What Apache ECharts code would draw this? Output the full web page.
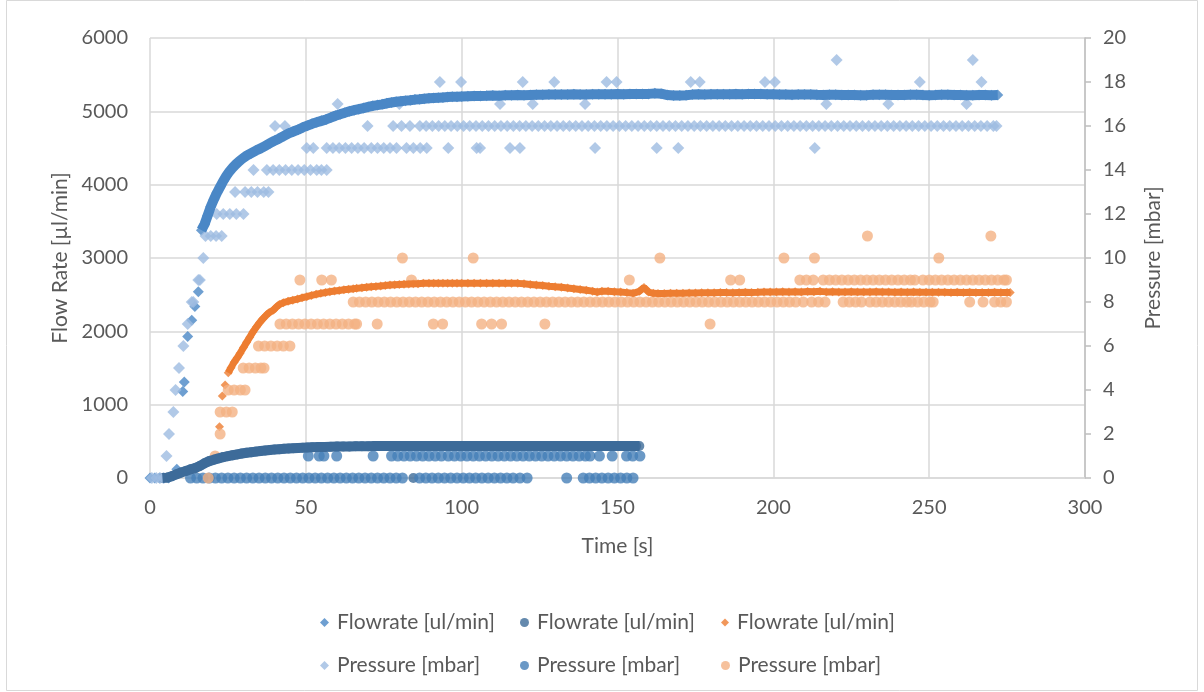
<!DOCTYPE html>
<html>
<head>
<meta charset="utf-8">
<script src="https://cdn.jsdelivr.net/npm/echarts@6/dist/echarts.min.js"></script>
<style>
html,body{margin:0;padding:0;background:#fff;}
#chart{width:1204px;height:692px;}
</style>
</head>
<body>
<div id="chart"></div>
<script>
// ---- axis ticks ----
const xTicks = [0, 50, 100, 150, 200, 250, 300];
const flowTicks = [0, 1000, 2000, 3000, 4000, 5000, 6000];
const pressureTicks = [0, 2, 4, 6, 8, 10, 12, 14, 16, 18, 20];

// ---- legend labels ----
const seriesLabels = {
  fa: 'Flowrate [ul/min]', fb: 'Flowrate [ul/min]', fc: 'Flowrate [ul/min]',
  pa: 'Pressure [mbar]', pb: 'Pressure [mbar]', pc: 'Pressure [mbar]'
};

// ---- Flowrate A [t (s), flow (ul/min)] ----
const flowA = [
[0,0],[1.5,0],[3,0],[4.5,0],[6,0],[7.5,30],[8.6,120],[10.5,1180],[11,1310],[12.1,1930],[13.4,2150],[14.4,2340],[15.5,2540],
[16.5,3380],[17.5,3460],[18.5,3580],[19.5,3700],[20.5,3800],[21.5,3890],[22.5,3970],[23.5,4050],[24.5,4120],[25.5,4180],
[26.5,4230],[27.5,4275],[28.5,4315],[29.5,4350],[31,4395],[32.5,4430],[34,4465],[35.5,4495],[37,4530],[38.5,4565],[40,4600],
[41.5,4630],[43,4665],[44.5,4700],[46,4725],[47.5,4750],[49,4780],[50.5,4805],[52,4830],[53.5,4850],[55,4870],[56.5,4890],
[58,4915],[59.5,4940],[61,4960],[62.5,4980],[64,5000],[65.5,5015],[67,5030],[68.5,5045],[70,5060],[71.5,5075],[73,5085],
[74.5,5095],[76,5110],[77.5,5120],[79,5130],[80.5,5138],[82,5146],[83.5,5152],[85,5160],[86.5,5165],[88,5172],[89.5,5177],
[91,5182],[92.5,5186],[94,5190],[95.5,5194],[97,5198],[98.5,5200],[100,5203],[102,5206],[104,5208],[106,5210],[108,5212],
[110,5215],[112,5214],[114,5218],[116,5220],[118,5222],[120,5220],[122,5224],[124,5226],[126,5225],[128,5228],[130,5230],
[132,5228],[134,5230],[136,5232],[138,5230],[140,5231],[142,5233],[144,5232],[146,5234],[148,5233],[150,5235],[152,5234],
[154,5236],[156,5235],[158,5237],[160,5238],[162,5245],[164,5240],[166,5222],[168,5215],[170,5215],[172,5220],[174,5228],
[176,5232],[178,5230],[180,5233],[182,5232],[184,5234],[186,5233],[188,5235],[190,5234],[192,5236],[194,5235],[196,5236],
[198,5234],[200,5232],[202,5230],[204,5228],[206,5226],[208,5228],[210,5230],[212,5229],[214,5226],[216,5224],[218,5226],
[220,5225],[222,5223],[224,5224],[226,5222],[228,5220],[230,5221],[232,5225],[234,5227],[236,5226],[238,5224],[240,5222],
[242,5224],[244,5226],[246,5225],[248,5222],[250,5220],[252,5222],[254,5225],[256,5227],[258,5224],[260,5222],[262,5220],
[264,5221],[266,5223],[268,5222],[270,5220],[272,5222]
];

// ---- Flowrate B ----
const flowB = [
[4,0],[5.5,5],[7,25],[8.5,50],[10,75],[11.5,95],[13,118],[14.5,135],[16,165],[17.5,200],[19,230],[20.5,250],[22,268],
[23.5,285],[25,298],[26.5,310],[28,322],[29.5,334],[31,344],[32.5,352],[34,360],[35.5,368],[37,375],[38.5,382],[40,388],
[41.5,393],[43,398],[44.5,402],[46,406],[47.5,410],[49,413],[50.5,416],[52,419],[54,422],[56,424],[58,426],[60,428],
[62,430],[64,431],[66,432],[68,433],[70,434],[72,435],[74,436],[76,436],[78,437],[80,437],[82,438],[84,437],[84.5,0],
[86,438],[88,438],[90,437],[92,438],[94,438],[96,437],[98,438],[100,437],[102,438],[104,437],[106,436],[108,437],[110,436],
[112,437],[114,436],[116,437],[118,436],[120,436],[122,435],[124,436],[126,435],[128,436],[130,435],[132,436],[134,435],
[136,436],[138,435],[140,436],[142,435],[144,436],[146,435],[148,436],[150,435],[152,436],[154,435],[156,436],[157,436]
];

// ---- Flowrate C ----
const flowC = [
[22.3,700],[23.2,1118],[24.1,1268],[25.1,1436],[26,1505],[27,1580],[28,1640],[28.9,1700],[30,1780],[31,1850],[32,1920],
[33,1990],[34.2,2063],[35.2,2120],[36.2,2170],[37.2,2215],[38.2,2255],[39.6,2291],[40.5,2330],[41.5,2365],[42.8,2391],
[44.3,2410],[45.8,2425],[47.3,2440],[48.8,2458],[50.3,2473],[51.8,2490],[53.3,2505],[54.8,2518],[56.3,2530],[57.7,2541],
[59.2,2550],[60.7,2558],[62.2,2566],[63.7,2574],[65.2,2580],[66.3,2586],[68,2595],[69.5,2602],[71,2608],[72.5,2613],
[74,2618],[75.5,2624],[77,2632],[78.5,2636],[80,2640],[81.5,2643],[83,2646],[84.5,2648],[86,2650],[87.7,2655],[89.5,2655],
[91,2656],[92.5,2656],[94,2655],[95.5,2656],[97,2655],[98.5,2656],[100,2655],[102,2655],[104,2656],[106,2655],[108,2656],
[110,2655],[112,2656],[114,2655],[116,2655],[118,2654],[120,2648],[122,2640],[124,2632],[126,2625],[128,2615],[130,2607],
[132,2600],[134,2590],[136,2580],[138,2570],[140,2560],[142,2548],[143.5,2535],[145,2548],[147,2545],[149,2540],[151,2535],
[153,2528],[155,2518],[157,2545],[158.5,2598],[160,2535],[161.5,2518],[163,2515],[165,2516],[167,2518],[169,2520],[171,2520],
[173,2522],[175,2524],[177,2525],[179,2526],[181,2527],[183,2530],[185,2528],[187,2527],[189,2530],[191,2532],[193,2530],
[195,2532],[197,2535],[199,2537],[201,2535],[203,2540],[205,2538],[207,2540],[209,2536],[211,2542],[213,2540],[215,2545],
[217,2538],[219,2540],[221,2535],[223,2538],[225,2540],[227,2536],[229,2535],[231,2538],[233,2540],[235,2536],[237,2535],
[239,2534],[241,2536],[243,2533],[245,2535],[247,2534],[249,2532],[251,2534],[253,2532],[255,2533],[257,2531],[259,2533],
[261,2530],[263,2532],[265,2530],[267,2531],[269,2530],[271,2532],[273,2530],[275,2528],[276,2530]
];

// ---- Pressure A: [mbar, times (s)] ----
const pressureA = [
[0,[0.6,2,3.2,4.3]],[1,[5.3]],[2,[6.1]],[3,[7.5]],[4,[8.2]],[5,[9.3]],[6,[10.7]],[7,[12.1]],[8,[13.4,13.9]],[9,[15.5,16]],
[10,[17.1]],[11,[17.8,19.5,21.2,23]],[12,[21.4,23.5,25.6,27.7,30]],[13,[27.3,30.5,32.5,34.5,36.5,38]],
[14,[33.2,37.5,39.5,41.5,43.5,45.5,47.5,49.5,51.5,53.5,55,56.7]],
[15,[50.3,52.4,56.7,58.7,60.7,62.7,64.7,66.7,68.7,71,73,75,77,79.1,82.3,84.5,86.7,88.8,95.7,104.8,105.9,115.5,118.7,142.8,162.6,169.5,213.3]],
[16,[40.1,43.3,69.8,78,80.7,83.4,86.6,88.6,90.6,92.6,94.6,96.6,98.6,100.6,102.6,104.6,106.6,108.6,110.6,112.6,114.6,116.6,
118.6,120.6,122.6,124.6,126.6,128.6,130.6,132.6,134.6,136.6,138.6,140.6,142.6,144.6,146.6,148.6,150.6,152.6,154.6,156.6,
158.6,160.6,162.6,164.6,166.6,168.6,170.6,172.6,174.6,176.6,178.6,180.6,182.6,184.6,186.6,188.6,190.6,192.6,194.6,196.6,
198.6,200.6,202.6,204.6,206.6,208.6,210.6,212.6,214.6,216.6,218.6,220.6,222.6,224.6,226.6,228.6,230.6,232.6,234.6,236.6,
238.6,240.6,242.6,244.6,246.6,248.6,250.6,252.6,254.6,256.6,258.6,260.6,262.6,264.6,266.6,268.6,270.6,271.6]],
[17,[60.2,80,112.3,122.8,139.6,217,236.9,262]],
[18,[93,99.8,119.6,129.7,146.5,149.7,173.5,176.4,197.3,200.5,247,266.8]],
[19,[220.3,264]]
];

// ---- Pressure B ----
const pressureB = [
[0,[13,15,17,19,21,23,25,27,29,31,33,35,37,39,41,43,45,47,49,51,53,55,57,59,61,63,65,67,69,71,73,75,77,79,81,
86.5,88.5,90.5,92.5,94.5,96.5,98.5,100.5,102.5,104.5,106.5,108.5,110.5,112.5,114.5,116.5,118.7,121,133.7,
139,141,143,145,147,149,151,153,155]],
[1,[50.8,54.3,55.8,59.9,71.6,77.5,79.5,81.5,83.5,85.5,87.5,89.5,91.5,93.5,95.7,97.7,99.7,101.7,103.7,105.7,107.7,109.7,
111.7,113.7,115.7,117.7,119.7,121.7,123.7,125.7,127.7,129.7,131.7,133.7,135.7,137.7,139.7,141.2,144.2,148.3,152.9,
154.9,157.2]]
];

// ---- Pressure C ----
const pressureC = [
[0,[18.7]],[1,[20.9]],[2,[22.5]],[3,[22.5,24.5,26.4]],[4,[25.1,27,29,30.5]],[5,[29.9,31.8,33.8,35.6,36.6]],
[6,[34.8,36.8,38.8,40.8,42.8,44.9]],
[7,[41.7,43.7,45.7,47.7,49.7,51.7,53.7,55.7,57.7,59.7,61.7,63.7,65.7,66.3,72.9,90.9,93.9,106.4,109.6,112.8,126.7,179.7]],
[8,[65.2,67.2,69.2,71.2,73.2,75.2,77.2,79.2,81.2,83.2,85.2,87.2,89.2,91.2,93.2,95.2,97.2,99.2,101.2,103.2,105.2,107.2,
109.2,111.2,113.2,115.2,117.2,119.2,121.2,123.2,125.2,127.2,129.2,131.2,133.2,135.2,137.2,139.2,141.2,143.2,145.2,147.2,
149.2,151.2,153.2,155.2,157.2,159.2,161.2,163.2,165.2,167.2,169.2,171.2,173.2,175.2,177.2,179.2,181.2,183.2,185.2,187.2,
189.2,191.2,193.2,195.2,197.2,199.2,201.2,203.2,205.2,207.2,209.6,212.3,214.5,216.6,222.4,224.4,226.4,228.3,231,233,235,
237,239,240.9,242.8,244.3,246.3,248.3,250.3,251.3,263,267.3,271,273,274.8]],
[9,[48.1,55.1,58.2,83.9,153.8,186.3,189.2,208.5,210.6,212.8,216,218,220,222,224,226,228,230,232,234,236,238,240,242,
244,245.4,248,250,252,254,256,258,260,262,264,266,268,270,272,274,274.8]],
[10,[81,103.7,163.6,203.4,213.2,253.1]],
[11,[230.2,269.8]]
];

function rowsToPoints(rows) {
  const out = [];
  rows.forEach(([p, ts]) => ts.forEach(t => out.push([t, p])));
  return out;
}

const FONT = 'Lato, "Open Sans", sans-serif';
const TXT = '#595959';
const GRID = '#d9d9d9';
const COLORS = { fa: '#4A87C6', fb: '#3D6B99', fc: '#ED7D31', pa: '#9DBBE1', pb: '#467FB8', pc: '#F4B183' };

function legendItem(name, icon, left, top, size) {
  return {
    left: left, top: top, itemWidth: size, itemHeight: size,
    data: [{ name: name, icon: icon }],
    formatter: n => seriesLabels[n],
    textStyle: { fontFamily: FONT, fontSize: 21, color: TXT, padding: [0, 0, 0, 3] }
  };
}

const chart = echarts.init(document.getElementById('chart'));
chart.setOption({
  animation: false,
  backgroundColor: '#ffffff',
  textStyle: { fontFamily: FONT, color: TXT },
  graphic: [{
    type: 'rect', silent: true, z: -10,
    shape: { x: 6.5, y: 0.5, width: 1191, height: 690 },
    style: { fill: 'none', stroke: GRID, lineWidth: 1 }
  }],
  grid: { left: 150, right: 119, top: 38, bottom: 214, containLabel: false },
  legend: [
    legendItem('fa', 'diamond', 315, 607, 9),
    legendItem('fb', 'circle', 515, 607, 9),
    legendItem('fc', 'diamond', 716, 607, 8),
    legendItem('pa', 'diamond', 315, 650, 9),
    legendItem('pb', 'circle', 515, 650, 9),
    legendItem('pc', 'circle', 716, 650, 9)
  ],
  xAxis: {
    type: 'value', min: xTicks[0], max: xTicks[xTicks.length - 1], interval: xTicks[1] - xTicks[0],
    name: 'Time [s]', nameLocation: 'middle', nameGap: 58,
    nameTextStyle: { fontFamily: FONT, fontSize: 21, color: TXT },
    axisLine: { show: true, lineStyle: { color: GRID, width: 1.5 } },
    axisTick: { show: false },
    splitLine: { show: true, lineStyle: { color: GRID, width: 1.5 } },
    axisLabel: { fontFamily: FONT, fontSize: 20, color: TXT, margin: 20 }
  },
  yAxis: [
    {
      type: 'value', position: 'left', min: flowTicks[0], max: flowTicks[flowTicks.length - 1],
      interval: flowTicks[1] - flowTicks[0],
      name: 'Flow Rate [µl/min]', nameLocation: 'middle', nameGap: 77, nameRotate: 90,
      nameTextStyle: { fontFamily: FONT, fontSize: 21, color: TXT },
      axisLine: { show: false }, axisTick: { show: false },
      splitLine: { show: true, lineStyle: { color: GRID, width: 1.5 } },
      axisLabel: { fontFamily: FONT, fontSize: 20, color: TXT, margin: 22, formatter: v => String(v) }
    },
    {
      type: 'value', position: 'right', min: pressureTicks[0], max: pressureTicks[pressureTicks.length - 1],
      interval: pressureTicks[1] - pressureTicks[0],
      name: 'Pressure [mbar]', nameLocation: 'middle', nameGap: 58, nameRotate: 90,
      nameTextStyle: { fontFamily: FONT, fontSize: 21, color: TXT },
      axisLine: { show: true, lineStyle: { color: '#bfbfbf', width: 1.5 } },
      axisTick: { show: true, length: 6, lineStyle: { color: '#bfbfbf', width: 1.5 } },
      splitLine: { show: false },
      axisLabel: { fontFamily: FONT, fontSize: 20, color: TXT, margin: 18, formatter: v => String(v) }
    }
  ],
  series: [
    { name: 'fa-band', type: 'line', yAxisIndex: 0, symbol: 'none', silent: true,
      lineStyle: { color: COLORS.fa, width: 10 }, data: flowA.filter(d => d[0] >= 16.5) },
    { name: 'fa', type: 'scatter', yAxisIndex: 0, symbol: 'diamond', symbolSize: 11,
      itemStyle: { color: COLORS.fa }, data: flowA },
    { name: 'fb-band', type: 'line', yAxisIndex: 0, symbol: 'none', silent: true,
      lineStyle: { color: COLORS.fb, width: 10 }, data: flowB.filter(d => d[1] > 0 || d[0] < 5) },
    { name: 'fb', type: 'scatter', yAxisIndex: 0, symbol: 'circle', symbolSize: 10,
      itemStyle: { color: COLORS.fb }, data: flowB },
    { name: 'fc-band', type: 'line', yAxisIndex: 0, symbol: 'none', silent: true,
      lineStyle: { color: COLORS.fc, width: 7 }, data: flowC.filter(d => d[0] >= 25) },
    { name: 'fc', type: 'scatter', yAxisIndex: 0, symbol: 'diamond', symbolSize: 9,
      itemStyle: { color: COLORS.fc }, data: flowC },
    { name: 'pa', type: 'scatter', yAxisIndex: 1, symbol: 'diamond', symbolSize: 12,
      itemStyle: { color: COLORS.pa }, data: rowsToPoints(pressureA) },
    { name: 'pb', type: 'scatter', yAxisIndex: 1, symbol: 'circle', symbolSize: 11,
      itemStyle: { color: COLORS.pb }, data: rowsToPoints(pressureB) },
    { name: 'pc', type: 'scatter', yAxisIndex: 1, symbol: 'circle', symbolSize: 11,
      itemStyle: { color: COLORS.pc }, data: rowsToPoints(pressureC) }
  ]
});
</script>
</body>
</html>
